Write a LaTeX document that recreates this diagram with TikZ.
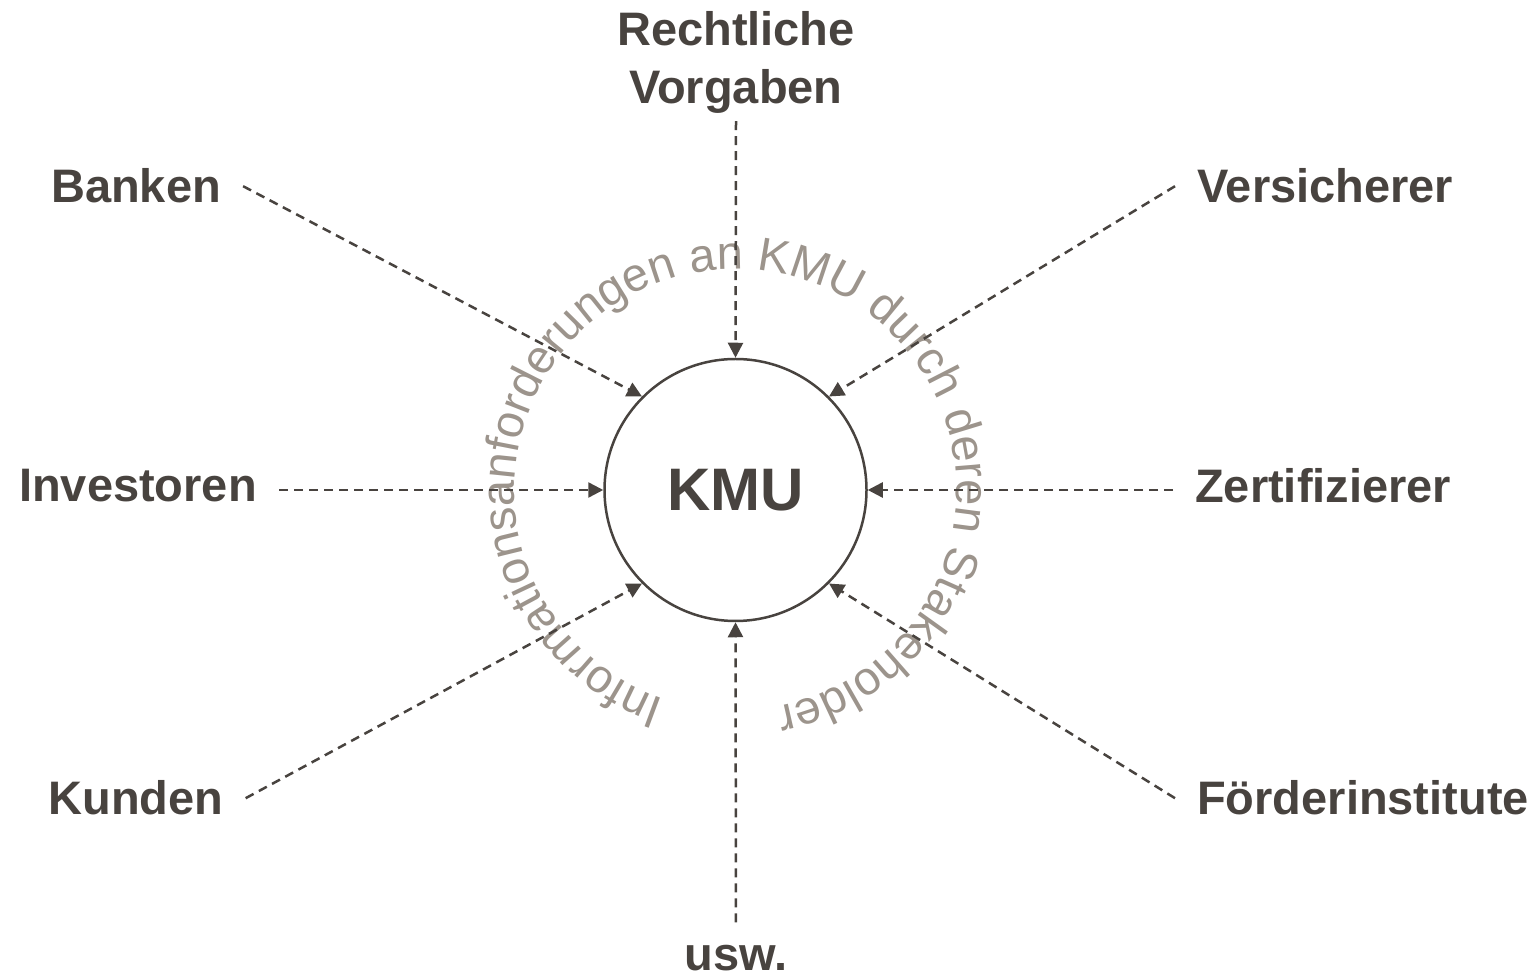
\documentclass[tikz,border=0pt]{standalone}
\usepackage{fontspec}
\setmainfont{Liberation Sans}
\usepackage{xcolor}
\usepackage{tikz}
\usetikzlibrary{arrows.meta,positioning,decorations.text}
\definecolor{kmuDark}{HTML}{48433F}
\definecolor{kmuGrey}{HTML}{9C948C}
\tikzset{
  hub/.style={
    circle, draw=kmuDark, line width=2.5pt, fill=white,
    minimum size=262pt, inner sep=0pt,
    text=kmuDark, font=\fontsize{60}{66}\selectfont\bfseries
  },
  lbl/.style={
    text=kmuDark, font=\fontsize{47}{58}\selectfont\bfseries,
    inner xsep=22pt, inner ysep=8pt, align=center
  },
  flow/.style={
    draw=kmuDark, line width=2.5pt, dash pattern=on 9pt off 6pt,
    -{Triangle[length=15pt,width=15pt]}
  }
}

\begin{document}
\begin{tikzpicture}[x=1pt, y=1pt]
  \useasboundingbox (0,0) rectangle (1537,975);

  % --- centre
  \node[hub] (kmu) at (735.5,485) {KMU};

  % --- stakeholders
  \node[lbl] (recht) at (736,913) {Rechtliche\\Vorgaben};
  \node[lbl, anchor=base] (usw) at (736,5) {usw.};
  \node[lbl, anchor=base] (banken) at (136,772) {Banken};
  \node[lbl, anchor=base] (invest) at (138,473) {Investoren};
  \node[lbl, anchor=base] (kunden) at (136,160) {Kunden};
  \node[lbl, anchor=base west] (versich) at (1175,772) {Versicherer};
  \node[lbl, anchor=base west] (zert) at (1173,472) {Zertifizierer};
  \node[lbl, anchor=base west] (foerder) at (1175,160) {F\"orderinstitute};

  % --- text round the centre
  \path[decorate, decoration={text along path, text align=center, text color=kmuGrey,
      text={|\fontsize{47}{52}\selectfont|Informationsanforderungen an KMU durch deren Stakeholder}}]
    (kmu.center) ++(262:221) arc[start angle=262, end angle=-90, radius=221];

  % --- arrows
  \draw[flow] (recht.south)  -- (kmu.north);
  \draw[flow, shorten <=14pt] (usw.north) -- (kmu.south);
  \draw[flow] (banken.east)  -- (kmu.135);
  \draw[flow] (invest.east |- kmu.west) -- (kmu.west);
  \draw[flow] (kunden.east)  -- (kmu.225);
  \draw[flow] (versich.west) -- (kmu.45);
  \draw[flow] (zert.west |- kmu.east) -- (kmu.east);
  \draw[flow] (foerder.west) -- (kmu.-45);
\end{tikzpicture}
\end{document}
